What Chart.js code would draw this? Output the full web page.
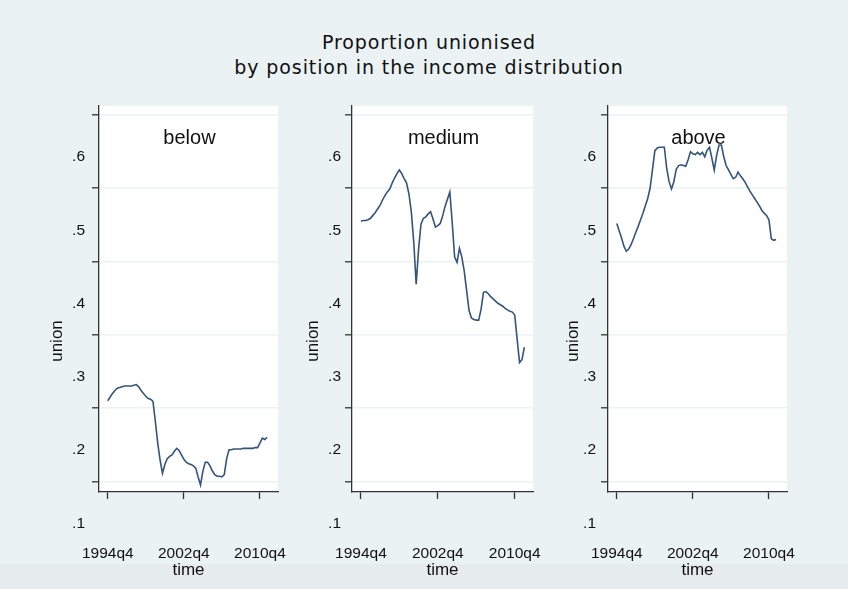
<!DOCTYPE html>
<html>
<head>
<meta charset="utf-8">
<title>Proportion unionised</title>
<script src="https://cdn.jsdelivr.net/npm/chart.js@4.4.1/dist/chart.umd.min.js"></script>
<style>
  html, body { margin: 0; padding: 0; }
  body {
    width: 848px; height: 589px; overflow: hidden; position: relative;
    background: #eaf2f3;
    font-family: "Liberation Sans", Arial, sans-serif;
  }
  #footer { position: absolute; left: 0; top: 564px; width: 848px; height: 25px; background: #e6ecee; }
  #title {
    position: absolute; left: 0; top: 30px; width: 858px; text-align: center;
    font-family: "DejaVu Sans", sans-serif; font-size: 19px; line-height: 25px;
    letter-spacing: 0.9px; color: #111;
  }
  .panel { position: absolute; top: 0; height: 589px; }
</style>
</head>
<body>
<div id="footer"></div>
<div id="title">Proportion unionised<br>by position in the income distribution</div>
<div class="panel" id="panel0"><canvas></canvas></div>
<div class="panel" id="panel1"><canvas></canvas></div>
<div class="panel" id="panel2"><canvas></canvas></div>

<script>
// ---- data: quarterly union share, first observation 1994q4 ----
const groups = ['below', 'medium', 'above'];
const firstQuarter = '1994q4';

const unionBelow = [
  0.210, 0.215, 0.220, 0.224, 0.227, 0.228, 0.229, 0.230, 0.230, 0.230,
  0.230, 0.231, 0.232, 0.229, 0.224, 0.220, 0.216, 0.213, 0.212, 0.209,
  0.182, 0.152, 0.129, 0.111, 0.123, 0.131, 0.134, 0.136, 0.141, 0.145,
  0.142, 0.136, 0.130, 0.126, 0.124, 0.123, 0.121, 0.118, 0.106, 0.095,
  0.114, 0.126, 0.126, 0.121, 0.114, 0.109, 0.107, 0.107, 0.106, 0.109,
  0.131, 0.143, 0.143, 0.144, 0.144, 0.144, 0.144, 0.145, 0.145, 0.145,
  0.145, 0.145, 0.146, 0.146, 0.152, 0.159, 0.157, 0.160
];
const unionMedium = [
  0.455, 0.456, 0.456, 0.457, 0.459, 0.463, 0.467, 0.472, 0.477, 0.484,
  0.490, 0.495, 0.499, 0.507, 0.514, 0.520, 0.525, 0.520, 0.513, 0.507,
  0.492, 0.467, 0.426, 0.369, 0.417, 0.451, 0.459, 0.461, 0.465, 0.468,
  0.458, 0.447, 0.449, 0.452, 0.462, 0.475, 0.485, 0.495, 0.453, 0.406,
  0.399, 0.418, 0.406, 0.387, 0.360, 0.333, 0.323, 0.321, 0.320, 0.320,
  0.335, 0.358, 0.359, 0.356, 0.352, 0.349, 0.346, 0.343, 0.341, 0.339,
  0.336, 0.334, 0.332, 0.331, 0.327, 0.294, 0.262, 0.266, 0.283
];
const unionAbove = [
  0.452, 0.442, 0.432, 0.421, 0.414, 0.417, 0.423, 0.431, 0.440, 0.448,
  0.457, 0.466, 0.476, 0.486, 0.500, 0.525, 0.551, 0.555, 0.556, 0.556,
  0.556, 0.527, 0.509, 0.499, 0.509, 0.526, 0.531, 0.532, 0.531, 0.530,
  0.539, 0.550, 0.547, 0.546, 0.549, 0.546, 0.549, 0.543, 0.552, 0.556,
  0.541, 0.525, 0.545, 0.559, 0.559, 0.543, 0.531, 0.525, 0.519, 0.513,
  0.515, 0.522, 0.517, 0.513, 0.508, 0.502, 0.496, 0.491, 0.486, 0.481,
  0.476, 0.470, 0.466, 0.463, 0.457, 0.431, 0.429, 0.430
];
const seriesByGroup = [unionBelow, unionMedium, unionAbove];

const yTickValues = [0.1, 0.2, 0.3, 0.4, 0.5, 0.6];
const xTickLabels = ['1994q4', '2002q4', '2010q4'];

// ---- quarterly dates as in Stata's %tq (quarters since 1960q1) ----
function toTq(label) {
  const [y, q] = label.split('q').map(Number);
  return (y - 1960) * 4 + (q - 1);
}
function tqLabel(t) {
  return (1960 + Math.floor(t / 4)) + 'q' + (t % 4 + 1);
}
const t0 = toTq(firstQuarter);

// ---- layout ----
const Y_AXIS_W = 80;    // room left of each plot for ticks, labels, title
const RIGHT_PAD = 30;
const PLOT_TOP = 106;
const X_AXIS_H = 97;    // plot bottom sits at 589 - 97
const panelBoxes = [
  { left: 99,  right: 278, labelPad: 7, titleGap: 37 },
  { left: 352, right: 533, labelPad: 4, titleGap: 34 },
  { left: 608, right: 787, labelPad: 5, titleGap: 30 }
];
const TEXT_DROP = 42;   // labels sit below their ticks

const INK = '#111111';
const AXIS = '#333333';
const GRID = '#eaf2f3';
const LINE = '#33557d';

Chart.defaults.font.family = '"Liberation Sans", Arial, sans-serif';
Chart.defaults.color = INK;

// white plot area, panel name and rotated y title
const panelDecor = {
  id: 'panelDecor',
  beforeDraw(chart) {
    const { ctx, chartArea: a } = chart;
    ctx.save();
    ctx.fillStyle = '#ffffff';
    ctx.fillRect(a.left, a.top, a.right - a.left, a.bottom - a.top);
    ctx.restore();
  },
  beforeDatasetsDraw(chart, args, opts) {
    const { ctx, chartArea: a } = chart;
    ctx.save();
    ctx.fillStyle = INK;
    ctx.textAlign = 'center';
    ctx.textBaseline = 'alphabetic';
    ctx.font = '20px "Liberation Sans", Arial, sans-serif';
    ctx.fillText(opts.name, (a.left + a.right) / 2 + 1, a.top + 38);

    ctx.translate(a.left - opts.titleGap, (a.top + a.bottom) / 2 + TEXT_DROP);
    ctx.rotate(-Math.PI / 2);
    ctx.font = '17px "Liberation Sans", Arial, sans-serif';
    ctx.fillText('union', 0, 0);
    ctx.restore();
  }
};

function makePanel(i) {
  const box = panelBoxes[i];
  const wrap = document.getElementById('panel' + i);
  wrap.style.left = (box.left - Y_AXIS_W) + 'px';
  wrap.style.width = (box.right - box.left + Y_AXIS_W + RIGHT_PAD) + 'px';

  const points = seriesByGroup[i].map((v, k) => ({ x: t0 + k, y: v }));

  return new Chart(wrap.querySelector('canvas'), {
    type: 'line',
    data: {
      datasets: [{
        data: points,
        borderColor: LINE,
        borderWidth: 1.6,
        pointRadius: 0,
        tension: 0,
        fill: false
      }]
    },
    plugins: [panelDecor],
    options: {
      responsive: true,
      maintainAspectRatio: false,
      animation: false,
      layout: { autoPadding: false, padding: { top: PLOT_TOP, right: RIGHT_PAD, bottom: 0, left: 0 } },
      plugins: {
        legend: { display: false },
        tooltip: { enabled: false },
        panelDecor: { name: groups[i], titleGap: box.titleGap }
      },
      scales: {
        x: {
          type: 'linear',
          min: 135.3,
          max: 210.6,
          afterBuildTicks(scale) {
            scale.ticks = xTickLabels.map(l => ({ value: toTq(l) }));
          },
          afterFit(scale) {
            scale.height = X_AXIS_H;
            scale.paddingLeft = 0;
            scale.paddingRight = 0;
          },
          ticks: {
            autoSkip: false,
            maxRotation: 0,
            padding: 45,
            font: { size: 15.5 },
            color: INK,
            callback: v => tqLabel(v)
          },
          grid: {
            drawOnChartArea: false,
            drawTicks: true,
            tickLength: 7,
            tickColor: AXIS,
            tickWidth: 1.3
          },
          border: { display: true, color: AXIS, width: 1.3 },
          title: {
            display: true,
            text: 'time',
            font: { size: 17 },
            color: INK,
            padding: { top: 0, bottom: 8 }
          }
        },
        y: {
          type: 'linear',
          min: 0.0854,
          max: 0.6123,
          afterBuildTicks(scale) {
            scale.ticks = yTickValues.map(v => ({ value: v }));
          },
          afterFit(scale) {
            scale.width = Y_AXIS_W;
            scale.paddingTop = 0;
            scale.paddingBottom = 0;
          },
          ticks: {
            autoSkip: false,
            padding: box.labelPad,
            labelOffset: TEXT_DROP,
            font: { size: 15.5 },
            color: INK,
            callback: v => String(+v.toFixed(1)).replace(/^0/, '')
          },
          grid: {
            color: GRID,
            lineWidth: 1.6,
            drawTicks: true,
            tickLength: 7,
            tickColor: AXIS,
            tickWidth: 1.3
          },
          border: { display: true, color: AXIS, width: 1.3 }
        }
      }
    }
  });
}

groups.forEach((g, i) => makePanel(i));
</script>
</body>
</html>
